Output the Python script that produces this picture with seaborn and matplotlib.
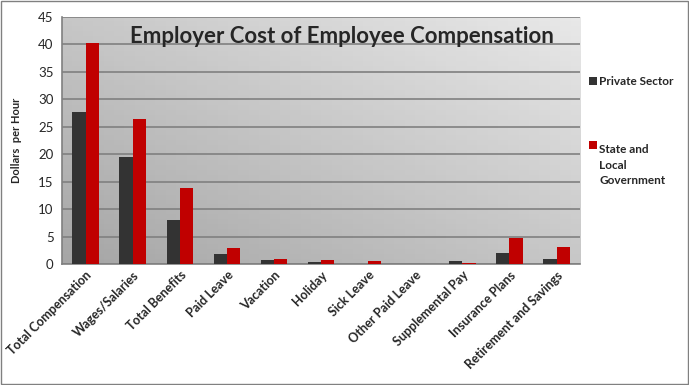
import numpy as np
import pandas as pd
import matplotlib.pyplot as plt
import seaborn as sns
from matplotlib.patches import Rectangle

# data
categories = ["Total Compensation", "Wages/Salaries", "Total Benefits", "Paid Leave",
              "Vacation", "Holiday", "Sick Leave", "Other Paid Leave",
              "Supplemental Pay", "Insurance Plans", "Retirement and Savings"]
private_sector = [27.7, 19.5, 8.0, 1.8, 0.7, 0.4, 0.0, 0.0, 0.6, 2.1, 0.9]
state_local = [40.3, 26.4, 13.8, 2.9, 0.9, 0.7, 0.5, 0.0, 0.2, 4.7, 3.1]
series = ["Private Sector", "State and Local Government"]
colors = ["#333333", "#c00000"]

df = pd.DataFrame({"cat": categories * 2,
                   "val": private_sector + state_local,
                   "series": [series[0]] * len(categories) + [series[1]] * len(categories)})

sns.set_style("white")
plt.rcParams['font.family'] = ['Lato', 'DejaVu Sans']

fig = plt.figure(figsize=(6.89, 3.85), dpi=100)
ax = fig.add_axes([0.09, 0.314, 0.752, 0.642])

# gradient plot-area background
grad = np.add.outer(np.linspace(1, 0, 50), np.linspace(0, 1, 50)) / 2
ax.imshow(grad, cmap=plt.matplotlib.colors.LinearSegmentedColormap.from_list(
    "g", ["#a6a6a6", "#e8e8e8"]), extent=[0, 1, 0, 1], transform=ax.transAxes,
    aspect="auto", zorder=0)

sns.barplot(data=df, x="cat", y="val", hue="series", palette=colors,
            width=0.56, gap=0, ax=ax, legend=False, zorder=3, saturation=1,
            linewidth=0, edgecolor="none")

ax.set_ylim(0, 45)
ax.set_xlim(-0.5, len(categories) - 0.5)
ax.set_yticks(range(0, 46, 5))
ax.yaxis.grid(True, color="#808080", linewidth=1.2, zorder=1)
ax.set_axisbelow(True)
ax.set_xlabel("")
ax.set_ylabel("Dollars  per Hour", fontsize=8, fontweight="bold", labelpad=12)
ax.tick_params(axis="y", labelsize=9.5, length=0, pad=6)
ax.tick_params(axis="x", length=0)
ax.set_xticks(np.arange(-0.5, len(categories), 1), minor=True)
ax.tick_params(axis="x", which="minor", length=5, color="#808080", width=1.2)
ax.set_xticklabels(categories, rotation=45, ha="right", rotation_mode="anchor",
                   fontsize=9, fontweight="bold")
for s in ["top", "right"]:
    ax.spines[s].set_visible(False)
for s in ["left", "bottom"]:
    ax.spines[s].set_color("#808080")
    ax.spines[s].set_linewidth(1.2)

ax.text(0.54, 0.965, "Employer Cost of Employee Compensation", transform=ax.transAxes,
        ha="center", va="top", fontsize=16, fontweight="bold", zorder=5)

# legend
fig.patches.append(Rectangle((0.855, 0.779), 0.011, 0.02, transform=fig.transFigure,
                             facecolor=colors[0], edgecolor="none"))
fig.text(0.87, 0.788, "Private Sector", fontsize=8.5, fontweight="bold", va="center")
fig.patches.append(Rectangle((0.855, 0.613), 0.011, 0.02, transform=fig.transFigure,
                             facecolor=colors[1], edgecolor="none"))
fig.text(0.87, 0.625, "State and\nLocal\nGovernment", fontsize=8.5, fontweight="bold",
         va="top", linespacing=1.5, transform=fig.transFigure)

fig.patches.append(Rectangle((0.002, 0.003), 0.996, 0.994, transform=fig.transFigure,
                             facecolor="none", edgecolor="#808080", linewidth=1))

fig.savefig("out.png", dpi=100)
